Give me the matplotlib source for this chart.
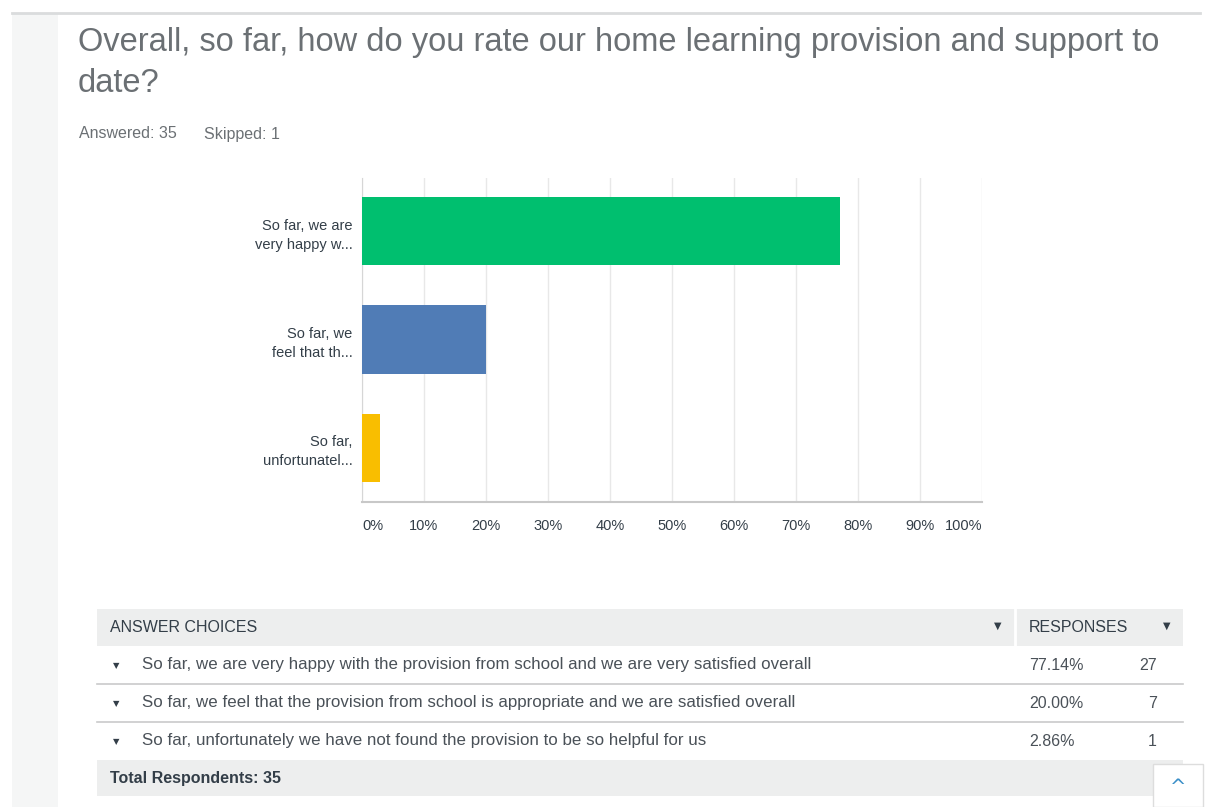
import matplotlib
matplotlib.use("Agg")
import matplotlib.pyplot as plt
from matplotlib.patches import Rectangle
from matplotlib.lines import Line2D

plt.rcParams['font.family'] = ['Liberation Sans Narrow', 'Liberation Sans', 'DejaVu Sans']

short_labels = ["So far, we are\nvery happy w...", "So far, we\nfeel that th...", "So far,\nunfortunatel..."]
full_labels = [
    "So far, we are very happy with the provision from school and we are very satisfied overall",
    "So far, we feel that the provision from school is appropriate and we are satisfied overall",
    "So far, unfortunately we have not found the provision to be so helpful for us",
]
percent = [77.14, 20.00, 2.86]
counts = [27, 7, 1]
bar_colors = ["#00BF6F", "#507CB6", "#F9BE00"]
xticks = [0, 10, 20, 30, 40, 50, 60, 70, 80, 90, 100]
xtick_labels = ["0%", "10%", "20%", "30%", "40%", "50%", "60%", "70%", "80%", "90%", "100%"]
answered = 35
skipped = 1

W, H = 1208, 807
fig = plt.figure(figsize=(W / 100, H / 100), dpi=100)
fig.patch.set_facecolor("white")


def fx(x):
    return x / W


def fy(y):
    return 1 - y / H


# page frame: left grey strip and top border
fig.patches.append(Rectangle((fx(12), 0), fx(46), fy(14), transform=fig.transFigure,
                             facecolor="#F5F6F6", edgecolor="none", zorder=0))
fig.lines.append(Line2D([fx(12), fx(1200)], [fy(13), fy(13)], transform=fig.transFigure,
                        color="#DADCDD", lw=2))

# title
fig.text(fx(78), fy(43), "Overall, so far, how do you rate our home learning provision and support to",
         fontsize=23.5, color="#6B7074", va="center", ha="left")
fig.text(fx(78), fy(83), "date?", fontsize=23.5, color="#6B7074", va="center", ha="left")
fig.text(fx(79), fy(134), "Answered: %d" % answered, fontsize=11.5, color="#6B7074", va="center", ha="left")
fig.text(fx(204), fy(134), "Skipped: %d" % skipped, fontsize=11.5, color="#6B7074", va="center", ha="left")

# bar chart
ax = fig.add_axes([fx(362), fy(502), fx(982) - fx(362), (502 - 178) / H])
ypos = list(range(len(percent)))
ax.barh(ypos, percent, height=0.63, color=bar_colors, zorder=3)
ax.set_xlim(0, 100)
ax.set_ylim(2.5, -0.49)
ax.set_xticks(xticks)
ax.set_xticklabels(xtick_labels, fontsize=10.5, color="#333E48")
for i, lab in enumerate(ax.get_xticklabels()):
    if i == 0:
        lab.set_ha("left")
    elif i == len(xticks) - 1:
        lab.set_ha("right")
ax.set_yticks(ypos)
ax.set_yticklabels(short_labels, fontsize=10.5, color="#333E48", linespacing=1.45)
for lab in ax.get_yticklabels():
    lab.set_va("center_baseline")
ax.tick_params(axis="both", length=0)
ax.tick_params(axis="x", pad=12)
ax.tick_params(axis="y", pad=7)
ax.grid(axis="x", color="#E8E8E8", lw=1, zorder=0)
for s in ["top", "right"]:
    ax.spines[s].set_visible(False)
ax.spines["left"].set_color("#D6D6D6")
ax.spines["bottom"].set_color("#C8C8C8")
ax.spines["bottom"].set_linewidth(1.5)

# table
tl, tr = 97, 1183
fig.patches.append(Rectangle((fx(tl), fy(646)), fx(tr - tl), (646 - 609) / H, transform=fig.transFigure,
                             facecolor="#EDEEEE", edgecolor="none"))
fig.lines.append(Line2D([fx(1015), fx(1015)], [fy(609), fy(646)], transform=fig.transFigure,
                        color="white", lw=2))
fig.text(fx(110), fy(628), "ANSWER CHOICES", fontsize=11.5, color="#333E48", va="center")
fig.text(fx(1029), fy(628), "RESPONSES", fontsize=11.5, color="#333E48", va="center")
fig.text(fx(998), fy(626), "\u25BC", fontsize=7, color="#333E48", va="center", ha="center",
         family="DejaVu Sans")
fig.text(fx(1167), fy(626), "\u25BC", fontsize=7, color="#333E48", va="center", ha="center",
         family="DejaVu Sans")

row_y = [665, 703, 741]
for i, (lab, p, c) in enumerate(zip(full_labels, percent, counts)):
    y = row_y[i]
    fig.text(fx(116), fy(y + 1), "\u25BC", fontsize=6, color="#333E48", va="center", ha="center",
             family="DejaVu Sans")
    fig.text(fx(142), fy(y), lab, fontsize=12.2, color="#4A5158", va="center")
    fig.text(fx(1029), fy(y), f"{p:.2f}%", fontsize=11.5, color="#4A5158", va="center")
    fig.text(fx(1157), fy(y), str(c), fontsize=11.5, color="#4A5158", va="center", ha="right")
    if i < len(row_y) - 1:
        fig.lines.append(Line2D([fx(tl), fx(tr)], [fy(y + 19), fy(y + 19)], transform=fig.transFigure,
                                color="#C9CACB", lw=1.2))

fig.patches.append(Rectangle((fx(tl), fy(796)), fx(tr - tl), (796 - 760) / H, transform=fig.transFigure,
                             facecolor="#EDEEEE", edgecolor="none"))
fig.text(fx(110), fy(778), f"Total Respondents: {answered}", fontsize=11.5, color="#333E48",
         va="center", fontweight="bold")

# back-to-top button
fig.patches.append(Rectangle((fx(1153), 0), fx(50), (807 - 764) / H, transform=fig.transFigure,
                             facecolor="white", edgecolor="#DDDDDD", lw=1))
fig.text(fx(1178), fy(788), "^", fontsize=14, color="#3A8FC8", va="center", ha="center",
         family="DejaVu Sans")

fig.savefig("out.png", dpi=100, facecolor="white")
